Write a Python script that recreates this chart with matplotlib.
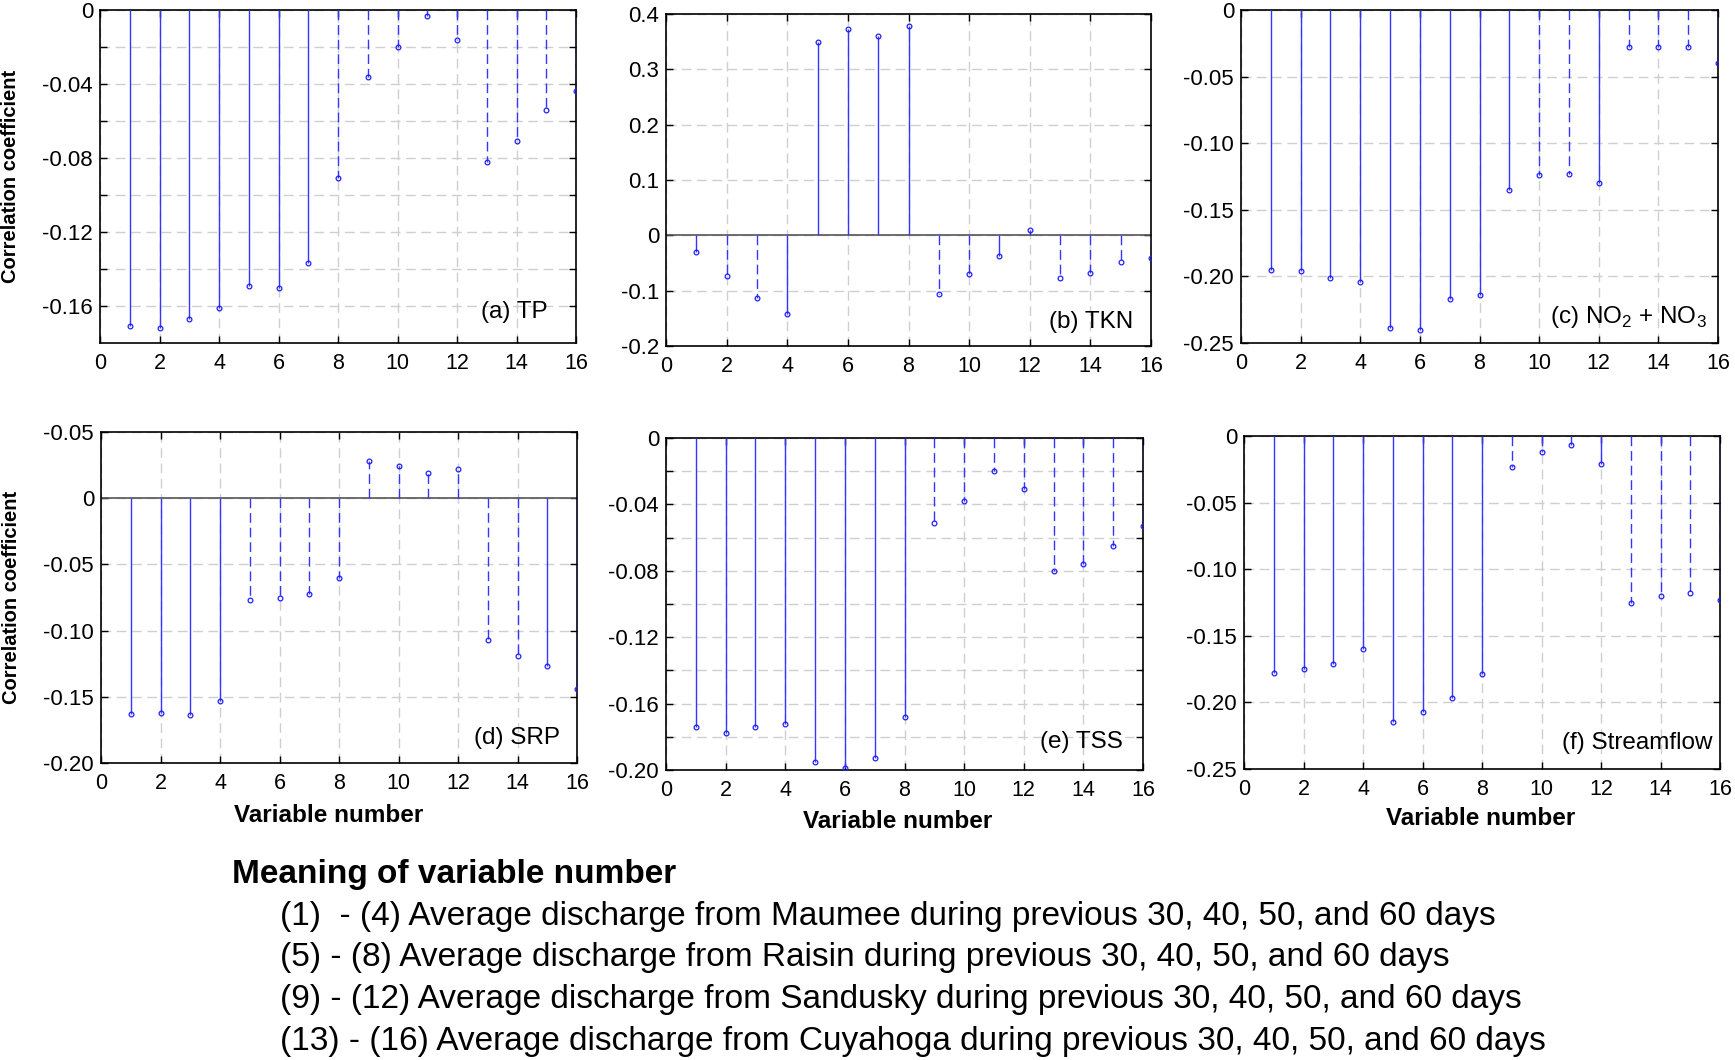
import numpy as np
import matplotlib.pyplot as plt

# correlation coefficients, variables 1-16
tp = [-0.171, -0.172, -0.167, -0.161, -0.149, -0.150, -0.137, -0.091,
      -0.036, -0.020, -0.003, -0.016, -0.082, -0.071, -0.054, -0.044]
tkn = [-0.030, -0.073, -0.114, -0.142, 0.349, 0.372, 0.360, 0.378,
       -0.106, -0.070, -0.037, 0.010, -0.078, -0.068, -0.049, -0.041]
no23 = [-0.195, -0.196, -0.201, -0.204, -0.239, -0.240, -0.217, -0.214,
        -0.135, -0.124, -0.123, -0.130, -0.028, -0.028, -0.028, -0.040]
srp = [-0.163, -0.162, -0.164, -0.153, -0.077, -0.075, -0.072, -0.060,
       0.028, 0.024, 0.019, 0.022, -0.107, -0.119, -0.127, -0.144]
tss = [-0.174, -0.178, -0.174, -0.172, -0.195, -0.199, -0.193, -0.168,
       -0.051, -0.038, -0.020, -0.031, -0.080, -0.076, -0.065, -0.053]
flow = [-0.178, -0.175, -0.171, -0.160, -0.215, -0.207, -0.197, -0.179,
        -0.023, -0.012, -0.007, -0.021, -0.125, -0.120, -0.118, -0.123]

# 1 = solid stem, 0 = dashed stem
tp_sig = [1, 1, 1, 1, 1, 1, 1, 0, 0, 0, 0, 0, 0, 0, 0, 0]
tkn_sig = [1, 0, 0, 1, 1, 1, 1, 1, 0, 0, 1, 1, 0, 0, 0, 0]
no23_sig = [1, 1, 1, 1, 1, 1, 1, 1, 1, 0, 0, 1, 0, 0, 0, 1]
srp_sig = [1, 1, 1, 1, 0, 0, 0, 0, 0, 0, 0, 0, 0, 0, 1, 1]
tss_sig = [1, 1, 1, 1, 1, 1, 1, 1, 0, 0, 0, 0, 0, 0, 0, 0]
flow_sig = [1, 1, 1, 1, 1, 1, 1, 1, 0, 0, 0, 1, 0, 0, 0, 0]

var_num = np.arange(1, 17)

tp_ticks = [0, -0.02, -0.04, -0.06, -0.08, -0.10, -0.12, -0.14, -0.16]
tp_labels = ['0', '', '-0.04', '', '-0.08', '', '-0.12', '', '-0.16']
tkn_ticks = [0.4, 0.3, 0.2, 0.1, 0, -0.1, -0.2]
tkn_labels = ['0.4', '0.3', '0.2', '0.1', '0', '-0.1', '-0.2']
no23_ticks = [0, -0.05, -0.10, -0.15, -0.20, -0.25]
no23_labels = ['0', '-0.05', '-0.10', '-0.15', '-0.20', '-0.25']
srp_ticks = [0.05, 0, -0.05, -0.10, -0.15, -0.20]
srp_labels = ['-0.05', '0', '-0.05', '-0.10', '-0.15', '-0.20']
tss_ticks = [0, -0.02, -0.04, -0.06, -0.08, -0.10, -0.12, -0.14, -0.16, -0.18, -0.20]
tss_labels = ['0', '', '-0.04', '', '-0.08', '', '-0.12', '', '-0.16', '', '-0.20']
flow_ticks = no23_ticks
flow_labels = no23_labels

meaning = ['(1)  - (4) Average discharge from Maumee during previous 30, 40, 50, and 60 days',
           '(5) - (8) Average discharge from Raisin during previous 30, 40, 50, and 60 days',
           '(9) - (12) Average discharge from Sandusky during previous 30, 40, 50, and 60 days',
           '(13) - (16) Average discharge from Cuyahoga during previous 30, 40, 50, and 60 days']

plt.rcParams['font.family'] = ['Liberation Sans', 'DejaVu Sans']

W, H = 1735, 1060
fig = plt.figure(figsize=(W / 100, H / 100), dpi=100)

stem_col = '#3535ff'


def rect(l, t, r, b):
    return [l / W, 1 - b / H, (r - l) / W, (b - t) / H]


def draw(box, vals, sig, ylim, ticks, labels, name, lx, ly):
    ax = fig.add_axes(rect(*box))
    vals = np.array(vals)
    sig = np.array(sig, bool)
    if ylim[0] < 0 < ylim[1]:
        ax.axhline(0, color='#555555', lw=1.2, zorder=2)
    ax.vlines(var_num[sig], 0, vals[sig], color=stem_col, lw=1.0, zorder=3)
    ax.vlines(var_num[~sig], 0, vals[~sig], color=stem_col, lw=1.0,
              linestyles=[(0, (7, 3.5))], zorder=3)
    ax.plot(var_num, vals, 'o', ms=3.4, mfc='none', mec='#2020ff', mew=0.9, zorder=4)
    ax.set_xlim(0, 16)
    ax.set_ylim(ylim)
    ax.set_xticks(range(0, 17, 2))
    ax.set_yticks(ticks)
    ax.set_yticklabels(labels)
    ax.grid(True, color='#cfcfcf', ls=(0, (7, 4)), lw=1.0, zorder=1)
    ax.tick_params(direction='in', top=True, right=True, length=5, width=1)
    ax.tick_params(axis='x', labelsize=15.5, pad=7)
    ax.tick_params(axis='y', labelsize=16, pad=5)
    for s in ax.spines.values():
        s.set_linewidth(1.2)
    ax.text(lx, ly, name, transform=ax.transAxes, ha='right', va='center', fontsize=17.5)
    return ax


ax_a = draw((100, 10, 576, 343), tp, tp_sig, (-0.18, 0), tp_ticks, tp_labels, '(a) TP', 0.94, 0.093)
ax_b = draw((666, 14, 1151, 346), tkn, tkn_sig, (-0.2, 0.4), tkn_ticks, tkn_labels, '(b) TKN', 0.963, 0.071)
ax_c = draw((1241, 10, 1718, 343), no23, no23_sig, (-0.25, 0), no23_ticks, no23_labels,
            r'(c) NO$_\mathregular{2}$ + NO$_\mathregular{3}$', 0.977, 0.078)
ax_d = draw((101, 432, 577, 763), srp, srp_sig, (-0.2, 0.05), srp_ticks, srp_labels, '(d) SRP', 0.965, 0.076)
ax_e = draw((666, 438, 1143, 770), tss, tss_sig, (-0.2, 0), tss_ticks, tss_labels, '(e) TSS', 0.958, 0.084)
ax_f = draw((1244, 436, 1720, 769), flow, flow_sig, (-0.25, 0), flow_ticks, flow_labels,
            '(f) Streamflow', 0.984, 0.078)

for ax in (ax_a, ax_d):
    ax.set_ylabel('Correlation coefficient', fontsize=14.5, fontweight='bold')
    ax.yaxis.set_label_coords(-0.168, 0.5)

for ax, lx, ly in ((ax_d, 0.478, -0.124), (ax_e, 0.485, -0.12), (ax_f, 0.497, -0.114)):
    ax.set_xlabel('Variable number', fontsize=17.5, fontweight='bold')
    ax.xaxis.set_label_coords(lx, ly)

fig.text(232 / W, 1 - 874 / H, 'Meaning of variable number', fontsize=24,
         fontweight='bold', va='center')
for i, line in enumerate(meaning):
    fig.text(280 / W, 1 - (916 + 41.7 * i) / H, line, fontsize=24, va='center')

fig.savefig('out.png', dpi=100)
